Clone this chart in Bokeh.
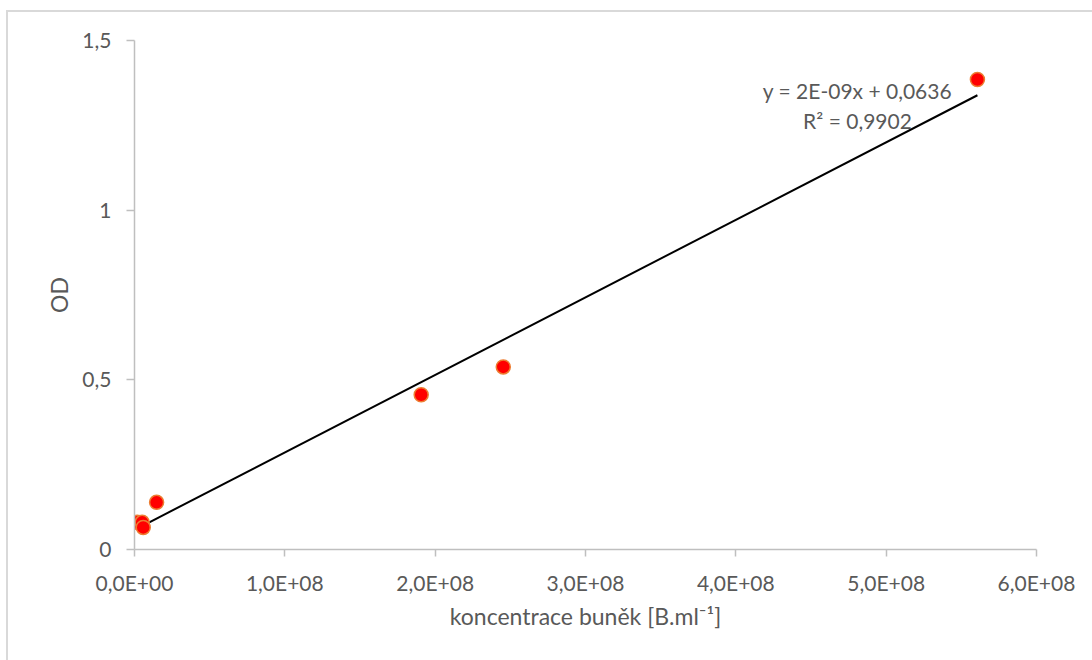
import numpy as np
from bokeh.plotting import figure
from bokeh.models import Range1d, FixedTicker, Label
from bokeh.embed import file_html
from bokeh.resources import INLINE

# ---- data ----
conc = [1.8e6, 5.1e6, 5.8e6, 1.47e7, 1.907e8, 2.453e8, 5.607e8]
od = [0.080, 0.080, 0.065, 0.139, 0.456, 0.538, 1.385]

x_ticks = [0, 1e8, 2e8, 3e8, 4e8, 5e8, 6e8]
x_tick_labels = ["0,0E+00", "1,0E+08", "2,0E+08", "3,0E+08", "4,0E+08", "5,0E+08", "6,0E+08"]
y_ticks = [0, 0.5, 1, 1.5]
y_tick_labels = ["0", "0,5", "1", "1,5"]

eq_line1 = "y = 2E-09x + 0,0636"
eq_line2 = "R² = 0,9902"
x_title = "koncentrace buněk [B.ml⁻¹]"
y_title = "OD"

# ---- figure ----
FONT = "Lato"
TXT = "#595959"
AX = "#bfbfbf"

p = figure(width=1086, height=650, output_backend="svg", toolbar_location=None,
           x_range=Range1d(0, 6e8), y_range=Range1d(0, 1.5),
           min_border_left=126, min_border_right=58, min_border_top=28, min_border_bottom=113)
p.margin = (10, 0, 0, 6)
p.styles = {"border-left": "2px solid #d9d9d9", "border-top": "2px solid #d9d9d9"}
p.outline_line_color = None
p.xgrid.visible = False
p.ygrid.visible = False
p.background_fill_color = "white"
p.border_fill_color = "white"

# axes
p.xaxis.ticker = FixedTicker(ticks=x_ticks)
p.xaxis.major_label_overrides = {t: l for t, l in zip(x_ticks, x_tick_labels)}
p.yaxis.ticker = FixedTicker(ticks=y_ticks)
p.yaxis.major_label_overrides = {t: l for t, l in zip(y_ticks, y_tick_labels)}
for ax in (p.xaxis, p.yaxis):
    ax.axis_line_color = AX
    ax.axis_line_width = 1.5
    ax.major_tick_line_color = AX
    ax.major_tick_line_width = 1.5
    ax.major_tick_in = 0
    ax.minor_tick_line_color = None
    ax.major_label_text_font = FONT
    ax.major_label_text_font_size = "21px"
    ax.major_label_text_color = TXT
    ax.axis_label_text_font = FONT
    ax.axis_label_text_font_style = "normal"
    ax.axis_label_text_color = TXT
p.xaxis.major_tick_out = 7
p.yaxis.major_tick_out = 8
p.xaxis.major_label_standoff = 13
p.yaxis.major_label_standoff = 15

p.yaxis.axis_label = y_title
p.yaxis.axis_label_text_font_size = "23px"
p.yaxis.axis_label_standoff = 6

p.xaxis.axis_label = x_title
p.xaxis.axis_label_text_font_size = "23px"
p.xaxis.axis_label_standoff = 4

# trendline (least squares from the data)
slope, intercept = np.polyfit(conc, od, 1)
xl = np.array([min(conc), max(conc)])
p.line(xl, slope * xl + intercept, line_color="black", line_width=2)

# points
p.scatter(conc, od, size=14, fill_color="#ff0000", line_color="#ed7d31", line_width=1.5)

# equation
p.add_layout(Label(x=723, y=459, x_units="screen", y_units="screen", text=eq_line1,
                   text_font=FONT, text_font_size="21px", text_color=TXT,
                   text_align="center", text_baseline="alphabetic"))
p.add_layout(Label(x=723, y=429, x_units="screen", y_units="screen", text=eq_line2,
                   text_font=FONT, text_font_size="21px", text_color=TXT,
                   text_align="center", text_baseline="alphabetic"))

open("out.html", "w").write(file_html(p, INLINE))
